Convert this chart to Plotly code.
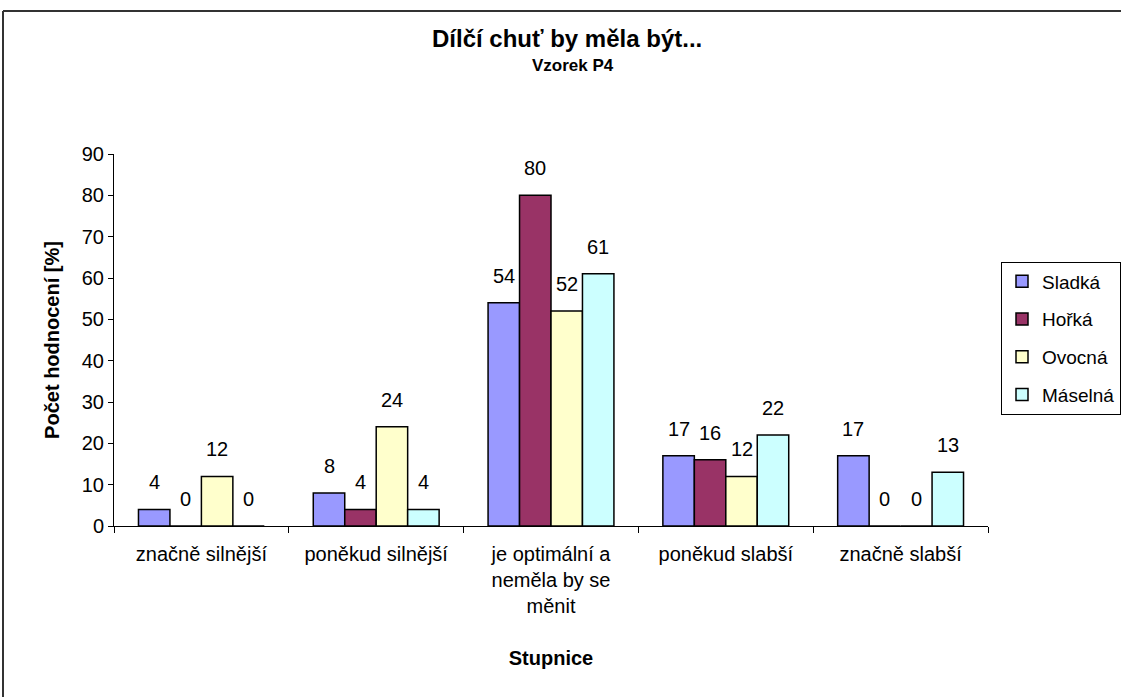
import plotly.graph_objects as go

# Category labels (rating scale) and series values [%]
categories = [
    "značně silnější",
    "poněkud silnější",
    "je optimální a<br>neměla by se<br>měnit",
    "poněkud slabší",
    "značně slabší",
]
series_names = ["Sladká", "Hořká", "Ovocná", "Máselná"]
sladka = [4, 8, 54, 17, 17]
horka = [0, 4, 80, 16, 0]
ovocna = [12, 24, 52, 12, 0]
maselna = [0, 4, 61, 22, 13]
series_values = [sladka, horka, ovocna, maselna]
series_colors = ["#9999FF", "#993366", "#FFFFCC", "#CCFFFF"]

y_ticks = [0, 10, 20, 30, 40, 50, 60, 70, 80, 90]

FONT = "Liberation Sans, Arial, sans-serif"
W, H = 1121, 697
M_L, M_R, M_T, M_B = 114, 133, 154, 171
BARGAP = 0.28

fig = go.Figure()
for name, vals, col in zip(series_names, series_values, series_colors):
    fig.add_trace(go.Bar(
        name=name,
        x=categories,
        y=vals,
        legendgroup=name,
        marker=dict(color=col, line=dict(color="#000000", width=1.5)),
    ))

plot_w = W - M_L - M_R
plot_h = H - M_T - M_B

def px_to_paper_x(px):
    return (px - M_L) / plot_w

def px_to_paper_y(py):
    return (H - M_B - py) / plot_h

# value labels above each bar, offset horizontally to the bar's slot in the group
bar_px = plot_w / len(categories) * (1 - BARGAP) / len(series_names)
annotations = []
for i, vals in enumerate(series_values):
    shift = (i - (len(series_names) - 1) / 2) * bar_px
    for cat, v in zip(categories, vals):
        annotations.append(dict(
            x=cat, y=v, xref="x", yref="y",
            text=str(v), showarrow=False,
            xanchor="center", yanchor="bottom",
            xshift=shift, yshift=14,
            font=dict(family=FONT, size=20, color="#000000"),
        ))

# chart title and subtitle
annotations.append(dict(
    x=px_to_paper_x(567), y=px_to_paper_y(38), xref="paper", yref="paper",
    text="<b>Dílčí chuť by měla být...</b>", showarrow=False,
    xanchor="center", yanchor="middle",
    font=dict(family=FONT, size=24, color="#000000"),
))
annotations.append(dict(
    x=px_to_paper_x(573), y=px_to_paper_y(65), xref="paper", yref="paper",
    text="<b>Vzorek P4</b>", showarrow=False,
    xanchor="center", yanchor="middle",
    font=dict(family=FONT, size=17, color="#000000"),
))

# chart frame lines (top and left edges)
shapes = [
    dict(type="line", xref="paper", yref="paper",
         x0=px_to_paper_x(3), x1=px_to_paper_x(W + 5),
         y0=px_to_paper_y(11), y1=px_to_paper_y(11),
         line=dict(color="#333333", width=2)),
    dict(type="line", xref="paper", yref="paper",
         x0=px_to_paper_x(3), x1=px_to_paper_x(3),
         y0=px_to_paper_y(11), y1=px_to_paper_y(H + 5),
         line=dict(color="#333333", width=2)),
]

fig.update_layout(
    width=W, height=H,
    margin=dict(l=M_L, r=M_R, t=M_T, b=M_B, autoexpand=False),
    paper_bgcolor="#FFFFFF",
    plot_bgcolor="#FFFFFF",
    barmode="group",
    bargap=BARGAP,
    bargroupgap=0,
    font=dict(family=FONT, size=20, color="#000000"),
    xaxis=dict(
        showline=True, linecolor="#000000", linewidth=1,
        ticks="outside", ticklen=6, tickcolor="#000000",
        tickson="boundaries",
        showgrid=False,
        tickfont=dict(family=FONT, size=20),
        ticklabelstandoff=10,
        title=dict(text="<b>Stupnice</b>", font=dict(family=FONT, size=20), standoff=34),
    ),
    yaxis=dict(
        range=[0, 90],
        tickvals=y_ticks,
        showline=True, linecolor="#000000", linewidth=1,
        ticks="outside", ticklen=5, tickcolor="#000000",
        showgrid=False, zeroline=False,
        tickfont=dict(family=FONT, size=20),
        title=dict(text="<b>Počet hodnocení [%]</b>", font=dict(family=FONT, size=20), standoff=16),
    ),
    legend=dict(
        x=px_to_paper_x(1001), xanchor="left",
        y=px_to_paper_y(338), yanchor="middle",
        traceorder="grouped", tracegroupgap=10,
        bordercolor="#000000", borderwidth=1,
        bgcolor="#FFFFFF",
        font=dict(family=FONT, size=19),
        itemwidth=30,
    ),
    annotations=annotations,
    shapes=shapes,
)

fig.write_html("out.html")
